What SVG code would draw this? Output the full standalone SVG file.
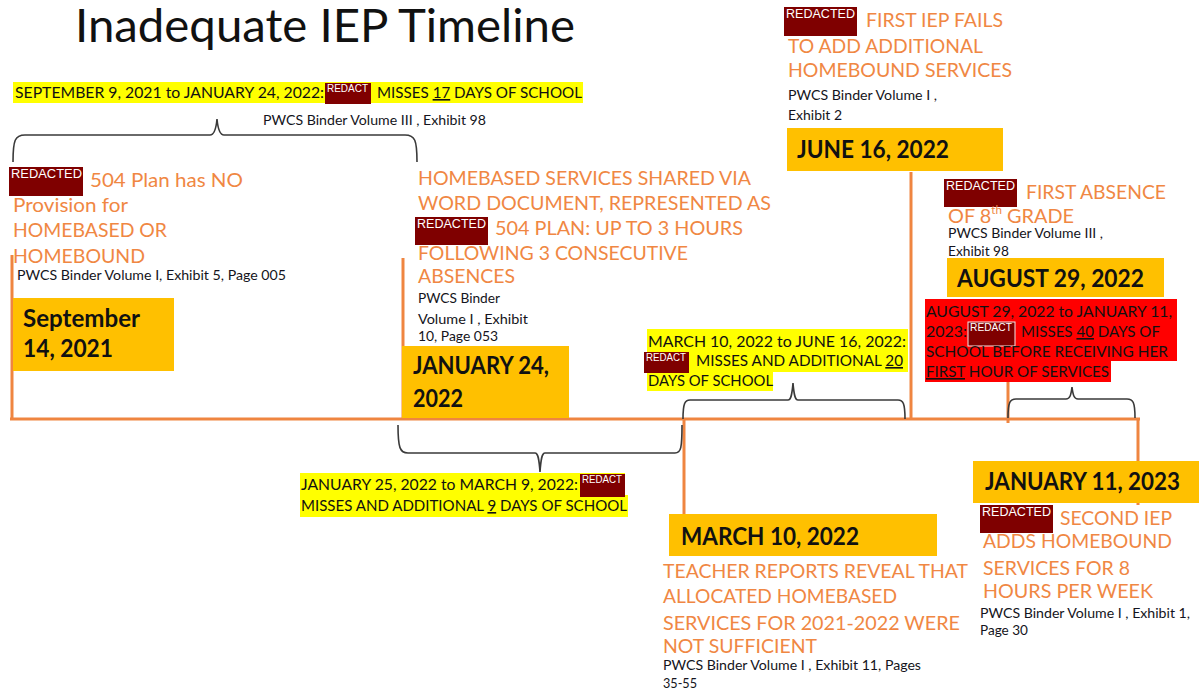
<svg xmlns="http://www.w3.org/2000/svg" width="1199" height="694" viewBox="0 0 1199 694">
<style>
.t{font-family:Lato,"Liberation Sans",sans-serif}
.title{font-size:46px;fill:#111}
.or{font-size:19px;fill:#F08743}
.src{font-size:13.5px;fill:#141420}
.hl{font-size:16px;fill:#111}
.dt{font-size:25px;font-weight:bold;fill:#111}
.red{fill:#7F0000}
.rt{font-family:"Liberation Sans",Arial,sans-serif;fill:#fff}
.rt13{font-size:12.5px}
.rt10{font-size:10px}
.gold{fill:#FFC000}
.yel{fill:#FFFF00}
.ln{stroke:#EF8540;stroke-width:3;fill:none}
.br{stroke:#3a3a3a;stroke-width:1.6;fill:none}
.u{text-decoration:underline}
</style>
<rect width="1199" height="694" fill="#fff"/>
<text class="t title" x="75" y="42" textLength="500" lengthAdjust="spacingAndGlyphs">Inadequate IEP Timeline</text>

<g id="connectors">
<line class="ln" x1="10" y1="419" x2="1140" y2="419"/>
<line class="ln" x1="12" y1="255" x2="12" y2="419"/>
<line class="ln" x1="403" y1="258" x2="403" y2="419"/>
<line class="ln" x1="911" y1="172" x2="911" y2="419"/>
<line class="ln" x1="1008" y1="382" x2="1008" y2="423"/>
<line class="ln" x1="684" y1="419" x2="684" y2="514"/>
<line class="ln" x1="1138" y1="419" x2="1138" y2="505"/>
<path class="br" d="M13,162 C13,140 15,135 25,135 L210,135 C214,135 216,130 217,119 C218,130 220,135 224,135 L405,135 C415,135 417,140 417,162"/>
<path class="br" d="M683,419 C683,403 685,400 690,400 L788,400 C791,400 792,395 793,383 C794,395 795,400 798,400 L898,400 C903,400 905,403 905,419"/>
<path class="br" d="M1008,418 C1008,402 1010,399 1016,399 L1066,399 C1070,399 1071,395 1072,387 C1073,395 1074,399 1078,399 L1127,399 C1133,399 1135,402 1135,418"/>
<path class="br" d="M398,425 C398,448 400,453 408,453 L535,453 C538,453 539,458 540,472 C541,458 542,453 545,453 L675,453 C681,453 682,448 682,425"/>
</g>

<g id="period-sep-jan">
<rect class="yel" x="13" y="82" width="570" height="21"/>
<text class="t hl" x="15" y="98" textLength="309" lengthAdjust="spacingAndGlyphs">SEPTEMBER 9, 2021 to JANUARY 24, 2022:</text>
<rect class="red" x="325" y="83" width="46" height="21"/>
<text class="rt rt10" x="327" y="92" textLength="41" lengthAdjust="spacingAndGlyphs">REDACT</text>
<text class="t hl" x="377" y="98" textLength="205" lengthAdjust="spacingAndGlyphs">MISSES <tspan class="u">17</tspan> DAYS OF SCHOOL</text>
<text class="t src" x="263" y="125" textLength="223" lengthAdjust="spacingAndGlyphs">PWCS Binder Volume III , Exhibit 98</text>
</g>

<g id="node-sep14">
<rect class="red" x="9" y="167" width="74" height="29"/>
<text class="rt rt13" x="11" y="178" textLength="71" lengthAdjust="spacingAndGlyphs">REDACTED</text>
<text class="t or" x="90" y="187" textLength="153" lengthAdjust="spacingAndGlyphs">504 Plan has NO</text>
<text class="t or" x="13" y="212" textLength="115" lengthAdjust="spacingAndGlyphs">Provision for</text>
<text class="t or" x="13" y="237" textLength="154" lengthAdjust="spacingAndGlyphs">HOMEBASED OR</text>
<text class="t or" x="13" y="263" textLength="132" lengthAdjust="spacingAndGlyphs">HOMEBOUND</text>
<text class="t src" x="17" y="280" textLength="269" lengthAdjust="spacingAndGlyphs">PWCS Binder Volume I, Exhibit 5, Page 005</text>
<rect class="gold" x="13" y="298" width="161" height="73"/>
<text class="t dt" x="23" y="327" textLength="117" lengthAdjust="spacingAndGlyphs">September</text>
<text class="t dt" x="23" y="357" textLength="90" lengthAdjust="spacingAndGlyphs">14, 2021</text>
</g>

<g id="node-jan24">
<text class="t or" x="418" y="185" textLength="333" lengthAdjust="spacingAndGlyphs">HOMEBASED SERVICES SHARED VIA</text>
<text class="t or" x="418" y="210" textLength="353" lengthAdjust="spacingAndGlyphs">WORD DOCUMENT, REPRESENTED AS</text>
<rect class="red" x="415" y="217" width="73" height="28"/>
<text class="rt rt13" x="417" y="228" textLength="69" lengthAdjust="spacingAndGlyphs">REDACTED</text>
<text class="t or" x="495" y="235" textLength="248" lengthAdjust="spacingAndGlyphs">504 PLAN: UP TO 3 HOURS</text>
<text class="t or" x="418" y="260" textLength="270" lengthAdjust="spacingAndGlyphs">FOLLOWING 3 CONSECUTIVE</text>
<text class="t or" x="418" y="283" textLength="97" lengthAdjust="spacingAndGlyphs">ABSENCES</text>
<text class="t src" x="418" y="303" textLength="82" lengthAdjust="spacingAndGlyphs">PWCS Binder</text>
<text class="t src" x="418" y="324" textLength="110" lengthAdjust="spacingAndGlyphs">Volume I , Exhibit</text>
<text class="t src" x="418" y="341" textLength="80" lengthAdjust="spacingAndGlyphs">10, Page 053</text>
<rect class="gold" x="402" y="346" width="167" height="72"/>
<text class="t dt" x="413" y="374" textLength="136" lengthAdjust="spacingAndGlyphs">JANUARY 24,</text>
<text class="t dt" x="413" y="407" textLength="50" lengthAdjust="spacingAndGlyphs">2022</text>
</g>

<g id="period-jan-mar">
<rect class="yel" x="300" y="473" width="325" height="22"/>
<rect class="yel" x="300" y="495" width="328" height="22"/>
<text class="t hl" x="301" y="490" textLength="277" lengthAdjust="spacingAndGlyphs">JANUARY 25, 2022 to MARCH 9, 2022:</text>
<rect class="red" x="580" y="474" width="45" height="23"/>
<text class="rt rt10" x="582" y="483" textLength="40" lengthAdjust="spacingAndGlyphs">REDACT</text>
<text class="t hl" x="301" y="511" textLength="326" lengthAdjust="spacingAndGlyphs">MISSES AND ADDITIONAL <tspan class="u">9</tspan> DAYS OF SCHOOL</text>
</g>

<g id="period-mar-jun">
<rect class="yel" x="647" y="329" width="261" height="43"/>
<rect class="yel" x="647" y="372" width="126" height="19"/>
<text class="t hl" x="648" y="347" textLength="258" lengthAdjust="spacingAndGlyphs">MARCH 10, 2022 to JUNE 16, 2022:</text>
<rect class="red" x="644" y="352" width="45" height="21"/>
<text class="rt rt10" x="646" y="361" textLength="40" lengthAdjust="spacingAndGlyphs">REDACT</text>
<text class="t hl" x="696" y="366" textLength="207" lengthAdjust="spacingAndGlyphs">MISSES AND ADDITIONAL <tspan class="u">20</tspan></text>
<text class="t hl" x="648" y="386" textLength="125" lengthAdjust="spacingAndGlyphs">DAYS OF SCHOOL</text>
</g>

<g id="node-mar10">
<rect class="gold" x="669" y="514" width="268" height="42"/>
<text class="t dt" x="681" y="545" textLength="178" lengthAdjust="spacingAndGlyphs">MARCH 10, 2022</text>
<text class="t or" x="663" y="578" textLength="305" lengthAdjust="spacingAndGlyphs">TEACHER REPORTS REVEAL THAT</text>
<text class="t or" x="663" y="603" textLength="234" lengthAdjust="spacingAndGlyphs">ALLOCATED HOMEBASED</text>
<text class="t or" x="663" y="630" textLength="297" lengthAdjust="spacingAndGlyphs">SERVICES FOR 2021-2022 WERE</text>
<text class="t or" x="663" y="653" textLength="154" lengthAdjust="spacingAndGlyphs">NOT SUFFICIENT</text>
<text class="t src" x="663" y="670" textLength="258" lengthAdjust="spacingAndGlyphs">PWCS Binder Volume I , Exhibit 11, Pages</text>
<text class="t src" x="663" y="688" textLength="34" lengthAdjust="spacingAndGlyphs">35-55</text>
</g>

<g id="node-jun16">
<rect class="red" x="784" y="7" width="73" height="29"/>
<text class="rt rt13" x="786" y="18" textLength="69" lengthAdjust="spacingAndGlyphs">REDACTED</text>
<text class="t or" x="866" y="27" textLength="137" lengthAdjust="spacingAndGlyphs">FIRST IEP FAILS</text>
<text class="t or" x="788" y="53" textLength="195" lengthAdjust="spacingAndGlyphs">TO ADD ADDITIONAL</text>
<text class="t or" x="788" y="77" textLength="224" lengthAdjust="spacingAndGlyphs">HOMEBOUND SERVICES</text>
<text class="t src" x="788" y="100" textLength="149" lengthAdjust="spacingAndGlyphs">PWCS Binder Volume I ,</text>
<text class="t src" x="788" y="120" textLength="54" lengthAdjust="spacingAndGlyphs">Exhibit 2</text>
<rect class="gold" x="787" y="128" width="216" height="43"/>
<text class="t dt" x="797" y="158" textLength="152" lengthAdjust="spacingAndGlyphs">JUNE 16, 2022</text>
</g>

<g id="node-aug29">
<rect class="red" x="944" y="179" width="73" height="28"/>
<text class="rt rt13" x="946" y="190" textLength="69" lengthAdjust="spacingAndGlyphs">REDACTED</text>
<text class="t or" x="1026" y="199" textLength="140" lengthAdjust="spacingAndGlyphs">FIRST ABSENCE</text>
<text class="t or" x="948" y="223" textLength="126" lengthAdjust="spacingAndGlyphs">OF 8<tspan dy="-9" style="font-size:11px">th</tspan><tspan dy="9"> GRADE</tspan></text>
<text class="t src" x="948" y="238" textLength="155" lengthAdjust="spacingAndGlyphs">PWCS Binder Volume III ,</text>
<text class="t src" x="948" y="256" textLength="61" lengthAdjust="spacingAndGlyphs">Exhibit 98</text>
<rect class="gold" x="947" y="258" width="217" height="39"/>
<text class="t dt" x="957" y="287" textLength="187" lengthAdjust="spacingAndGlyphs">AUGUST 29, 2022</text>
</g>

<g id="period-aug-jan">
<rect x="925" y="299" width="252" height="62" fill="#FF0000"/>
<rect x="925" y="361" width="186" height="21" fill="#FF0000"/>
<text class="t hl" x="926" y="317" textLength="246" lengthAdjust="spacingAndGlyphs">AUGUST 29, 2022 to JANUARY 11,</text>
<text class="t hl" x="926" y="337" textLength="41" lengthAdjust="spacingAndGlyphs">2023:</text>
<rect x="968" y="322" width="47" height="24" fill="#7F0000" stroke="#f4e8e8" stroke-width="1"/>
<text class="rt rt10" x="970" y="331" textLength="42" lengthAdjust="spacingAndGlyphs">REDACT</text>
<text class="t hl" x="1021" y="337" textLength="139" lengthAdjust="spacingAndGlyphs">MISSES <tspan class="u">40</tspan> DAYS OF</text>
<text class="t hl" x="926" y="357" textLength="242" lengthAdjust="spacingAndGlyphs">SCHOOL  BEFORE RECEIVING HER</text>
<text class="t hl" x="926" y="377" textLength="183" lengthAdjust="spacingAndGlyphs"><tspan class="u">FIRST</tspan> HOUR OF SERVICES</text>
</g>

<g id="node-jan11">
<rect class="gold" x="973" y="461" width="226" height="42"/>
<text class="t dt" x="985" y="490" textLength="195" lengthAdjust="spacingAndGlyphs">JANUARY 11, 2023</text>
<rect class="red" x="980" y="505" width="73" height="28"/>
<text class="rt rt13" x="982" y="516" textLength="69" lengthAdjust="spacingAndGlyphs">REDACTED</text>
<text class="t or" x="1060" y="525" textLength="112" lengthAdjust="spacingAndGlyphs">SECOND IEP</text>
<text class="t or" x="983" y="548" textLength="189" lengthAdjust="spacingAndGlyphs">ADDS HOMEBOUND</text>
<text class="t or" x="983" y="575" textLength="147" lengthAdjust="spacingAndGlyphs">SERVICES FOR 8</text>
<text class="t or" x="983" y="598" textLength="170" lengthAdjust="spacingAndGlyphs">HOURS PER WEEK</text>
<text class="t src" x="980" y="618" textLength="210" lengthAdjust="spacingAndGlyphs">PWCS Binder Volume I , Exhibit 1,</text>
<text class="t src" x="980" y="635" textLength="48" lengthAdjust="spacingAndGlyphs">Page 30</text>
</g>
</svg>
